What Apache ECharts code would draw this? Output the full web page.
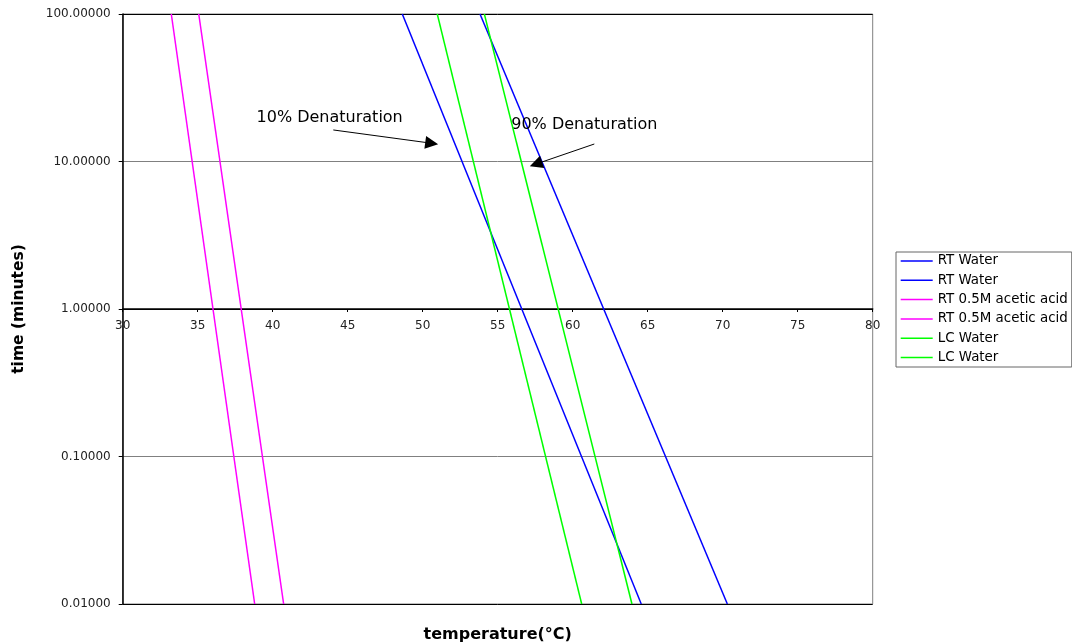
<!DOCTYPE html>
<html>
<head>
<meta charset="utf-8">
<title>Denaturation time vs temperature</title>
<script src="https://cdn.jsdelivr.net/npm/echarts@6/dist/echarts.min.js"></script>
<style>
  html, body { margin: 0; padding: 0; background: #fff; }
  #chart { width: 1072px; height: 644px; }
</style>
</head>
<body>
<div id="chart"></div>
<script>
// Series: straight lines on the log time axis, given by their end points
const seriesNames = ['RT Water', 'RT Water', 'RT 0.5M acetic acid', 'RT 0.5M acetic acid', 'LC Water', 'LC Water'];
const seriesColors = ['#0000FF', '#0000FF', '#FF00FF', '#FF00FF', '#00FF00', '#00FF00'];
const tempAtTop = [48.64, 53.82, 33.24, 35.07, 50.97, 54.11];     // °C where time = 100 min
const tempAtBottom = [64.57, 70.31, 38.80, 40.73, 60.60, 63.95];  // °C where time = 0.01 min
const timeEnds = [100, 0.01];

// Axis ranges
const xTicks = [30, 35, 40, 45, 50, 55, 60, 65, 70, 75, 80];
const yTicks = [0.01, 0.1, 1, 10, 100];

// Annotations (data coordinates: [temperature, time])
const noteTexts = ['10% Denaturation', '90% Denaturation'];
const noteAnchors = [[38.89, 19.9], [55.87, 17.7]];
const arrowFrom = [[44.04, 16.36], [61.44, 13.14]];
const arrowTo = [[50.6, 13.29], [57.55, 9.61]];

const FONT = 'DejaVu Sans';
const chart = echarts.init(document.getElementById('chart'), null, { renderer: 'canvas' });

// unique legend keys, shown without the suffix
const keys = seriesNames.map((n, i) => n + ' #' + (i + 1));

const gridTop = 14, gridBottom = 40, gridHeight = 644 - gridTop - gridBottom;
// the temperature axis crosses the time axis at 1 minute (middle of the log range)
const xAxisOffset = -gridHeight / 2;

const lineSeries = keys.map((k, i) => ({
  type: 'line',
  name: k,
  data: [[tempAtTop[i], timeEnds[0]], [tempAtBottom[i], timeEnds[1]]],
  showSymbol: false,
  symbol: 'none',
  lineStyle: { color: seriesColors[i], width: 1.5 },
  itemStyle: { color: seriesColors[i] },
  z: 3 + i
}));

const noteSeries = {
  type: 'line',
  name: 'notes',
  data: [],
  silent: true,
  z: 10,
  markLine: {
    silent: true,
    animation: false,
    symbol: ['none', 'triangle'],
    symbolSize: 13,
    label: { show: false },
    lineStyle: { color: '#000', width: 1, type: 'solid' },
    itemStyle: { color: '#000' },
    data: arrowFrom.map((p, i) => [{ coord: p }, { coord: arrowTo[i] }])
  },
  markPoint: {
    silent: true,
    animation: false,
    symbol: 'circle',
    symbolSize: 1,
    itemStyle: { color: 'rgba(0,0,0,0)' },
    data: noteTexts.map((t, i) => ({
      coord: noteAnchors[i],
      label: {
        show: true,
        position: 'right',
        distance: 0,
        formatter: t,
        color: '#000',
        fontFamily: FONT,
        fontSize: 16
      }
    }))
  }
};

chart.setOption({
  animation: false,
  backgroundColor: '#fff',
  grid: {
    left: 122.7,
    right: 199.3,
    top: gridTop,
    bottom: gridBottom,
    containLabel: false,
    outerBoundsMode: 'none',
    show: true,
    borderColor: '#808080',
    borderWidth: 1,
    backgroundColor: '#fff'
  },
  legend: {
    orient: 'vertical',
    left: 896,
    top: 252,
    data: keys,
    formatter: name => name.replace(/ #\d+$/, ''),
    icon: 'rect',
    itemWidth: 32,
    itemHeight: 1.5,
    itemGap: 4.3,
    padding: [1.5, 4, 2, 4.7],
    backgroundColor: '#fff',
    borderColor: '#666',
    borderWidth: 1,
    selectedMode: false,
    textStyle: { color: '#000', fontFamily: FONT, fontSize: 13.4, lineHeight: 15 }
  },
  xAxis: {
    type: 'value',
    min: xTicks[0],
    max: xTicks[xTicks.length - 1],
    interval: 5,
    offset: xAxisOffset,
    name: 'temperature(°C)',
    nameLocation: 'middle',
    nameGap: 318,
    nameTextStyle: { color: '#000', fontFamily: FONT, fontSize: 16, fontWeight: 'bold' },
    axisLine: { show: true, onZero: false, lineStyle: { color: '#000', width: 1.5 } },
    axisTick: { show: true, inside: false, length: 3, lineStyle: { color: '#000' } },
    axisLabel: { color: '#222', fontFamily: FONT, fontSize: 12, margin: 11 },
    splitLine: { show: false }
  },
  yAxis: {
    type: 'log',
    logBase: 10,
    min: yTicks[0],
    max: yTicks[yTicks.length - 1],
    name: 'time (minutes)',
    nameLocation: 'middle',
    nameGap: 96,
    nameTextStyle: { color: '#000', fontFamily: FONT, fontSize: 15.5, fontWeight: 'bold' },
    axisLine: { show: true, lineStyle: { color: '#000', width: 1.5 } },
    axisTick: { show: true, inside: false, length: 4, lineStyle: { color: '#000' } },
    axisLabel: {
      color: '#222',
      fontFamily: FONT,
      fontSize: 12,
      margin: 12,
      formatter: v => Number(v).toFixed(5)
    },
    splitLine: {
      show: true,
      lineStyle: { color: ['#000', '#808080', '#000', '#808080', '#000'], width: 1 }
    }
  },
  series: lineSeries.concat([noteSeries])
});
</script>
</body>
</html>
